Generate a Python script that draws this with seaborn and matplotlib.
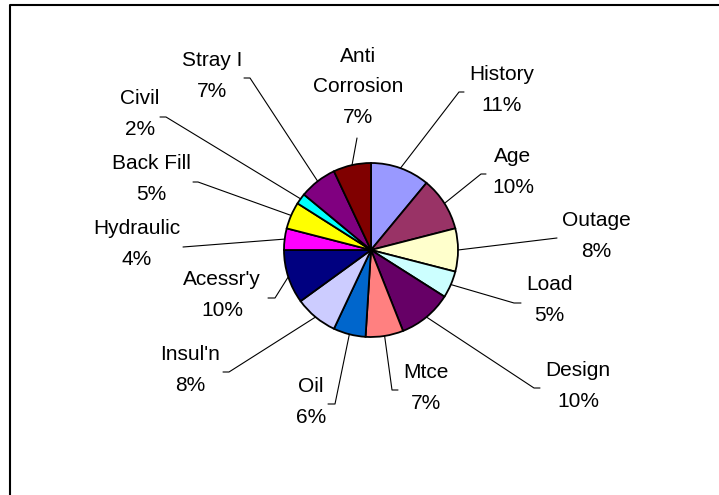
import numpy as np
import matplotlib
matplotlib.use("Agg")
import matplotlib.pyplot as plt
from matplotlib.lines import Line2D
import seaborn as sns

# Contributing factors and their shares (%)
categories = ["History", "Age", "Outage", "Load", "Design", "Mtce", "Oil",
              "Insul'n", "Acessr'y", "Hydraulic", "Back Fill", "Civil",
              "Stray I", "Anti\nCorrosion"]
shares = [11, 10, 8, 5, 10, 7, 6, 8, 10, 4, 5, 2, 7, 7]
colors = ["#9999FF", "#993366", "#FFFFCC", "#CCFFFF", "#660066", "#FF8080",
          "#0066CC", "#CCCCFF", "#000080", "#FF00FF", "#FFFF00", "#00FFFF",
          "#800080", "#800000"]

# Label layout in pixels from the top-left corner:
# text centre, leader elbow, and where the short horizontal tick ends (None = no tick)
label_xy = [(502, 90), (513, 172), (596, 236), (549, 300), (578, 386),
            (426, 388), (311, 402), (190, 370), (222, 295), (137, 244),
            (151, 179), (140, 114), (212, 76), (358, 87)]
elbow_xy = [(459, 92), (481, 174), (557, 238), (514, 303), (534, 388),
            (392, 390), (335, 404), (229, 372), (275, 298), (183, 247),
            (198, 182), (166, 117), (250, 78), (357, 138)]
tick_x = [464, 486, None, 521, 540, 398, 328, 223, 268, None, 193, 160, 244, None]

sns.set_theme(style="white")
plt.rcParams["font.family"] = ["Liberation Sans", "DejaVu Sans"]

W, H = 719, 495
fig = plt.figure(figsize=(W / 100, H / 100), dpi=100)
fig.patch.set_facecolor("white")
ax = fig.add_axes([0, 0, 1, 1])

cx, cy, r = 371, H - 250, 87
wedges, _ = ax.pie(shares, colors=colors, startangle=90, counterclock=False,
                   center=(cx, cy), radius=r,
                   wedgeprops=dict(edgecolor="black", linewidth=1.3))

ax.set_xlim(0, W)
ax.set_ylim(0, H)
ax.set_aspect("equal")
ax.axis("off")

for w, name, val, (tx, ty), (ex, ey), tk in zip(wedges, categories, shares,
                                                 label_xy, elbow_xy, tick_x):
    mid = np.deg2rad((w.theta1 + w.theta2) / 2)
    px, py = cx + r * np.cos(mid), cy + r * np.sin(mid)
    xs = [px, ex]
    ys = [py, H - ey]
    if tk is not None:
        xs.append(tk)
        ys.append(H - ey)
    ax.add_line(Line2D(xs, ys, color="black", linewidth=0.8))
    ax.text(tx, H - ty, f"{name}\n{val}%", ha="center", va="center",
            fontsize=15, linespacing=1.75, color="black")

# Chart-area frame (left and top edges)
ax.add_line(Line2D([10, 10, W + 5], [-5, H - 4.5, H - 4.5], color="black",
                   linewidth=1.5, clip_on=False))

fig.savefig("out.png", dpi=100, facecolor="white")
